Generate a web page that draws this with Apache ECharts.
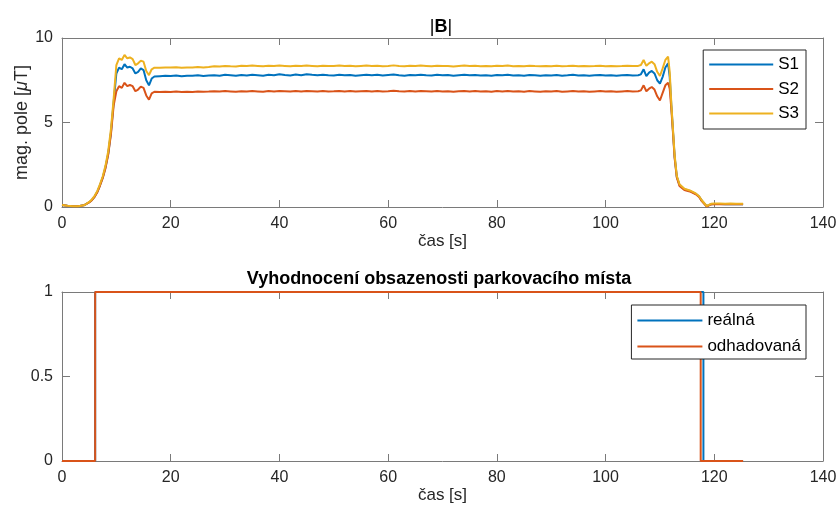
<!DOCTYPE html>
<html><head><meta charset="utf-8">
<script src="https://cdn.jsdelivr.net/npm/echarts@6/dist/echarts.min.js"></script>
<style>html,body{margin:0;padding:0;background:#fff}#c{width:840px;height:514px}</style>
</head><body><div id="c"></div>
<script>
// time axis [s] for |B| signals
var timeB = [0,1,2,3,4,4.5,5,5.5,6,6.5,7,7.5,8,8.5,9,9.5,10,10.5,11,11.5,12,12.5,13,13.5,14,14.5,15,15.5,16,16.5,17,
18,19,20,21,22,23,24,25,26,27,28,29,30,31,32,33,34,35,36,37,38,39,40,41,42,43,44,45,46,47,48,49,50,51,52,53,54,55,56,57,
58,59,60,61,62,63,64,65,66,67,68,69,70,71,72,73,74,75,76,77,78,79,80,81,82,83,84,85,86,87,88,89,90,91,92,93,94,95,96,97,
98,99,100,101,102,103,104,105,106,
106.5,107,107.5,108,108.5,109,109.5,110,110.5,111,111.5,111.8,112.1,112.4,112.7,113.1,113.6,114.5,115.5,116.6,117.2,117.7,118.6,119.4,120,121,122,123,124,125.3];

var S1 = [0.12,0.08,0.05,0.05,0.1,0.18,0.28,0.42,0.62,0.9,1.3,1.75,2.35,3.15,4.4,6.2,7.9,8.25,8.15,8.45,8.25,8.3,8.2,7.9,8.0,8.2,8.1,7.5,7.2,7.6,7.72,
7.74,7.76,7.75,7.78,7.73,7.77,7.76,7.79,7.75,7.78,
7.80,7.77,7.82,7.79,7.76,7.81,7.78,7.83,7.80,7.77,
7.82,7.79,7.85,7.81,7.78,7.84,7.80,7.86,7.82,7.79,
7.83,7.80,7.78,7.82,7.79,7.81,7.77,7.80,7.83,7.79,
7.82,7.78,7.81,7.84,7.80,7.77,7.81,7.79,7.83,7.80,
7.78,7.82,7.79,7.81,7.77,7.80,7.83,7.79,7.81,7.78,
7.80,7.77,7.81,7.79,7.82,7.78,7.80,7.77,7.81,7.79,
7.76,7.80,7.78,7.81,7.77,7.79,7.82,7.78,7.80,7.77,
7.79,7.81,7.78,7.80,7.77,7.79,7.81,7.78,7.80,
7.85,8.15,7.75,7.95,8.05,7.9,7.5,7.3,7.7,8.25,8.5,7.7,6.0,4.5,3.0,1.8,1.3,1.05,0.95,0.78,0.62,0.38,0.05,0.17,0.18,0.18,0.17,0.18,0.17,0.17];

var S2 = [0.12,0.08,0.05,0.05,0.1,0.18,0.27,0.4,0.6,0.88,1.27,1.72,2.3,3.1,4.3,6.0,6.85,7.15,7.05,7.35,7.15,7.22,7.15,6.85,6.95,7.12,7.05,6.6,6.35,6.72,6.82,
6.80,6.82,6.81,6.83,6.80,6.82,6.81,6.84,6.82,6.83,
6.85,6.83,6.86,6.84,6.82,6.85,6.83,6.86,6.84,6.82,
6.86,6.84,6.87,6.85,6.83,6.86,6.84,6.87,6.85,6.83,
6.86,6.84,6.85,6.87,6.84,6.86,6.83,6.85,6.87,6.84,
6.86,6.83,6.85,6.88,6.85,6.83,6.86,6.84,6.87,6.85,
6.83,6.86,6.84,6.85,6.82,6.85,6.87,6.84,6.86,6.83,
6.85,6.82,6.86,6.84,6.87,6.83,6.85,6.82,6.86,6.84,
6.82,6.85,6.83,6.86,6.82,6.84,6.86,6.83,6.85,6.82,
6.84,6.86,6.83,6.85,6.82,6.84,6.86,6.83,6.85,
6.9,7.2,6.85,7.0,7.1,6.95,6.55,6.3,6.75,7.2,7.35,7.0,5.8,4.4,2.9,1.75,1.25,1.0,0.92,0.75,0.6,0.35,0.03,0.15,0.17,0.17,0.16,0.17,0.16,0.16];

var S3 = [0.12,0.08,0.05,0.05,0.1,0.19,0.3,0.45,0.66,0.95,1.36,1.82,2.45,3.3,4.6,6.4,8.4,8.8,8.7,9.0,8.8,8.85,8.75,8.4,8.5,8.65,8.6,8.05,7.8,8.15,8.24,
8.24,8.26,8.25,8.27,8.24,8.26,8.25,8.28,8.26,8.29,
8.33,8.31,8.35,8.33,8.32,8.36,8.34,8.37,8.35,8.33,
8.36,8.34,8.37,8.35,8.33,8.36,8.34,8.37,8.35,8.33,
8.36,8.34,8.35,8.37,8.34,8.36,8.33,8.35,8.37,8.34,
8.36,8.33,8.35,8.38,8.35,8.33,8.36,8.34,8.37,8.35,
8.33,8.36,8.34,8.35,8.32,8.35,8.37,8.34,8.36,8.33,
8.35,8.33,8.36,8.34,8.37,8.33,8.35,8.33,8.36,8.34,
8.33,8.35,8.33,8.36,8.33,8.34,8.36,8.33,8.35,8.33,
8.34,8.36,8.33,8.35,8.33,8.34,8.36,8.34,8.35,
8.4,8.7,8.35,8.5,8.6,8.45,8.0,7.75,8.2,8.7,8.9,8.0,6.1,4.6,3.1,1.85,1.35,1.08,0.98,0.8,0.64,0.4,0.06,0.19,0.2,0.2,0.19,0.2,0.19,0.19];

// occupancy (0/1) step signals
var realT = [0, 6.1, 6.1, 118.0, 118.0, 125.3];
var realV = [0, 0, 1, 1, 0, 0];
var estT  = [0, 6.1, 6.1, 117.5, 117.5, 125.3];
var estV  = [0, 0, 1, 1, 0, 0];

var xTicks = [0,20,40,60,80,100,120,140];
var yTicksB = [0,5,10];
var yTicksO = [0,0.5,1];

function pairs(t, v){ return t.map(function(x,i){ return [x, v[i]]; }); }

var FONT = 'Liberation Sans, Arial, Helvetica, sans-serif';
var AX = '#262626';
var AXL = '#7a7a7a';
var C1 = '#0072BD', C2 = '#D95319', C3 = '#EDB120';

function mainX(grid, name){
  return {type:'value', gridIndex:grid, min:xTicks[0], max:xTicks[xTicks.length-1], interval:20, position:'bottom',
    name:name, nameLocation:'middle', nameGap:25, nameTextStyle:{fontFamily:FONT, fontSize:17, color:AX},
    axisLine:{show:true, onZero:false, lineStyle:{color:AXL, width:1}},
    axisTick:{show:true, inside:true, length:7, lineStyle:{color:AXL}},
    axisLabel:{fontFamily:FONT, fontSize:16, color:AX, margin:9},
    splitLine:{show:false}};
}
function topX(grid){
  return {type:'value', gridIndex:grid, min:xTicks[0], max:xTicks[xTicks.length-1], interval:20, position:'top',
    axisLine:{show:true, onZero:false, lineStyle:{color:AXL, width:1}},
    axisTick:{show:true, inside:true, length:7, lineStyle:{color:AXL}},
    axisLabel:{show:false}, splitLine:{show:false}};
}
function mainY(grid, min, max, iv, name, fmt){
  var o = {type:'value', gridIndex:grid, min:min, max:max, interval:iv, position:'left',
    axisLine:{show:true, onZero:false, lineStyle:{color:AXL, width:1}},
    axisTick:{show:true, inside:true, length:8, lineStyle:{color:AXL}},
    axisLabel:{fontFamily:FONT, fontSize:16, color:AX, margin:9, formatter:fmt},
    splitLine:{show:false}};
  if (name) {
    o.name = name; o.nameLocation = 'middle'; o.nameGap = 31; o.nameMoveOverlap = false;
    o.nameTextStyle = {fontFamily:FONT, fontSize:18, color:AX, rich:{i:{fontFamily:FONT, fontSize:18, fontStyle:'italic', color:AX}}};
  }
  return o;
}
function rightY(grid, min, max, iv){
  return {type:'value', gridIndex:grid, min:min, max:max, interval:iv, position:'right',
    axisLine:{show:true, onZero:false, lineStyle:{color:AXL, width:1}},
    axisTick:{show:true, inside:true, length:8, lineStyle:{color:AXL}},
    axisLabel:{show:false}, splitLine:{show:false}};
}

var chart = echarts.init(document.getElementById('c'), null, {renderer:'canvas'});
chart.setOption({
  animation:false,
  backgroundColor:'#ffffff',
  title:[
    {text:'|{b|B}|', left:436, top:13, textAlign:'center',
     textStyle:{fontFamily:FONT, fontSize:18, fontWeight:'normal', color:'#000', rich:{b:{fontFamily:FONT, fontSize:18, fontWeight:'bold', color:'#000'}}}},
    {text:'Vyhodnocení obsazenosti parkovacího místa', left:434, top:265, textAlign:'center',
     textStyle:{fontFamily:FONT, fontSize:18, fontWeight:'bold', color:'#000'}}
  ],
  grid:[
    {left:62, top:38, width:761, height:169},
    {left:62, top:292, width:761, height:169}
  ],
  xAxis:[ mainX(0,'čas [s]'), topX(0), mainX(1,'čas [s]'), topX(1) ],
  yAxis:[
    mainY(0, 0, 10, 5, 'mag. pole [{i|μ}T]', function(v){return String(v);}),
    rightY(0, 0, 10, 5),
    mainY(1, 0, 1, 0.5, null, function(v){return String(v);}),
    rightY(1, 0, 1, 0.5)
  ],
  legend:[
    {data:['S1','S2','S3'], orient:'vertical', right:34, top:50, icon:'rect', itemWidth:64, itemHeight:2, itemGap:7.5,
     padding:[6,7,7,6], borderColor:'#262626', borderWidth:1, backgroundColor:'#fff',
     textStyle:{fontFamily:FONT, fontSize:17, lineHeight:16, color:'#000'}},
    {data:['reálná','odhadovaná'], orient:'vertical', right:34, top:305, icon:'rect', itemWidth:65, itemHeight:2, itemGap:9,
     padding:[7,5,4,6], borderColor:'#262626', borderWidth:1, backgroundColor:'#fff',
     textStyle:{fontFamily:FONT, fontSize:17, lineHeight:16, color:'#000'}}
  ],
  series:[
    {name:'S1', type:'line', xAxisIndex:0, yAxisIndex:0, data:pairs(timeB,S1), symbol:'none',
     lineStyle:{color:C1, width:2}, itemStyle:{color:C1}},
    {name:'S2', type:'line', xAxisIndex:0, yAxisIndex:0, data:pairs(timeB,S2), symbol:'none',
     lineStyle:{color:C2, width:2}, itemStyle:{color:C2}},
    {name:'S3', type:'line', xAxisIndex:0, yAxisIndex:0, data:pairs(timeB,S3), symbol:'none',
     lineStyle:{color:C3, width:2}, itemStyle:{color:C3}},
    {name:'reálná', type:'line', xAxisIndex:2, yAxisIndex:2, data:pairs(realT,realV), symbol:'none',
     lineStyle:{color:C1, width:2}, itemStyle:{color:C1}},
    {name:'odhadovaná', type:'line', xAxisIndex:2, yAxisIndex:2, data:pairs(estT,estV), symbol:'none',
     lineStyle:{color:C2, width:2}, itemStyle:{color:C2}}
  ]
});
</script></body></html>
